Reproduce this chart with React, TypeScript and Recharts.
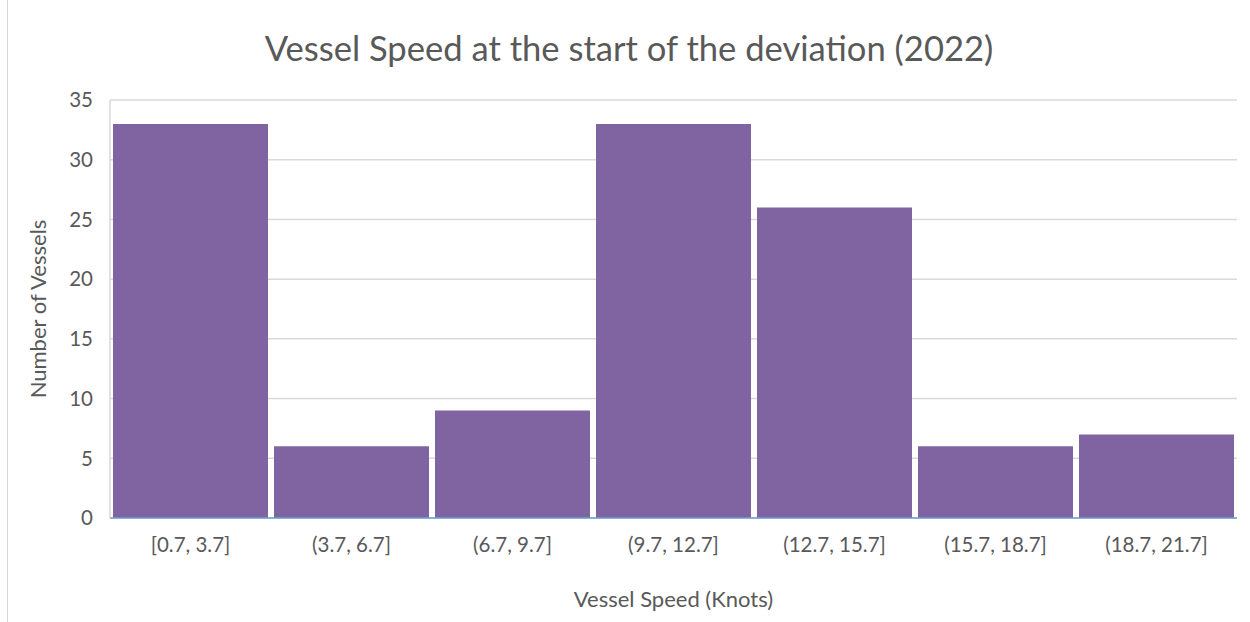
import { Bar, BarChart, CartesianGrid, XAxis, YAxis } from "recharts";

const speedBins = ["[0.7, 3.7]", "(3.7, 6.7]", "(6.7, 9.7]", "(9.7, 12.7]", "(12.7, 15.7]", "(15.7, 18.7]", "(18.7, 21.7]"];
const vesselCounts = [33, 6, 9, 33, 26, 6, 7];
const yTicks = [0, 5, 10, 15, 20, 25, 30, 35];

const FONT = "Lato, 'Noto Sans', sans-serif";
const INK = "#595959";
const TICK_STYLE = { fontSize: 20.5, fill: INK, fontFamily: FONT };
const LABEL_STYLE = { fontSize: 22, fill: INK, fontFamily: FONT };

const data = speedBins.map((bin, i) => ({ bin, count: vesselCounts[i] }));

export default function App() {
  return (
    <div style={{ position: "fixed", left: 0, top: 0, width: 1250, height: 622, background: "#fff" }}>
      <div style={{ position: "absolute", left: 7, top: 0, width: 1, height: 622, background: "#d9d9d9" }} />
      <div
        style={{
          position: "absolute",
          left: 0,
          top: 26,
          width: 1258,
          textAlign: "center",
          fontFamily: FONT,
          fontSize: 34.6,
          color: INK,
          lineHeight: "44px",
        }}
      >
        Vessel Speed at the start of the deviation (2022)
      </div>
      <BarChart
        width={1250}
        height={622}
        data={data}
        margin={{ top: 100, right: 13, left: 0, bottom: 0 }}
        barCategoryGap={3}
      >
        <CartesianGrid stroke="#d9d9d9" strokeWidth={1.5} vertical={false} />
        <XAxis
          dataKey="bin"
          height={104}
          tick={TICK_STYLE}
          tickSize={0}
          tickMargin={19}
          axisLine={{ stroke: "#6a9fd4", strokeWidth: 1.5 }}
          tickLine={false}
          interval={0}
          label={{ value: "Vessel Speed (Knots)", position: "insideBottom", offset: 15, style: LABEL_STYLE }}
        />
        <YAxis
          width={110}
          domain={[0, 35]}
          ticks={yTicks}
          tick={TICK_STYLE}
          tickSize={0}
          tickMargin={17}
          axisLine={{ stroke: "#d9d9d9", strokeWidth: 1.5 }}
          tickLine={false}
          label={{ value: "Number of Vessels", angle: -90, position: "insideLeft", offset: 38, style: { ...LABEL_STYLE, textAnchor: "middle" } }}
        />
        <Bar dataKey="count" fill="#8064A2" isAnimationActive={false} />
      </BarChart>
    </div>
  );
}
